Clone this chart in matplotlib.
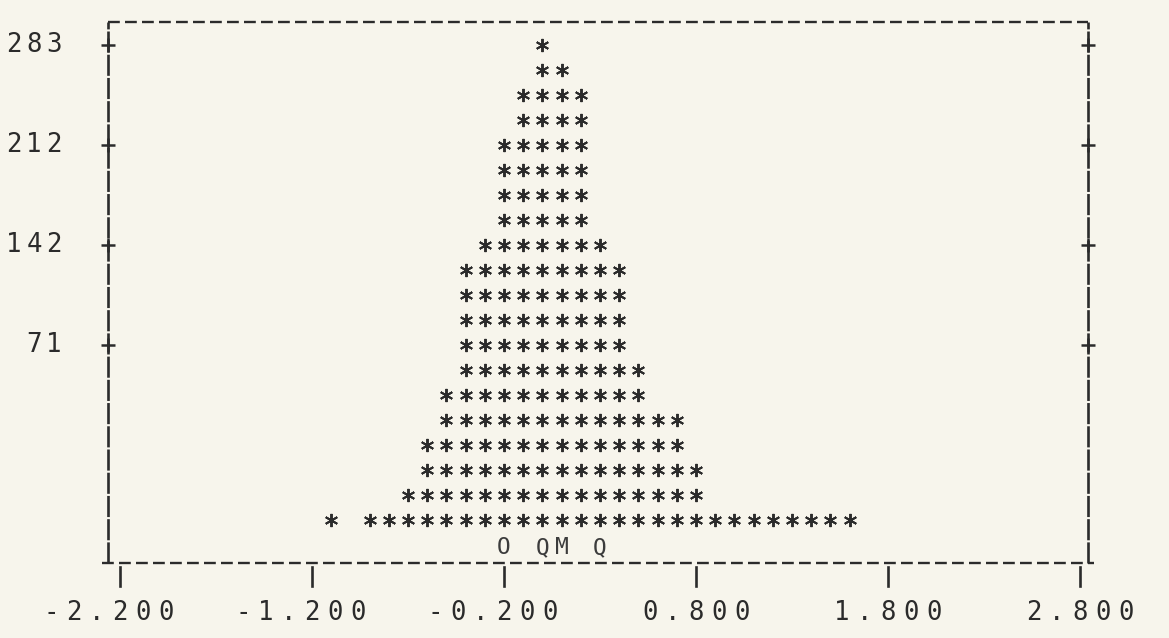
import matplotlib.pyplot as plt
import numpy as np
from matplotlib.transforms import blended_transform_factory

# histogram columns (cell centre) and how many printed rows of stars each one has
bins = [-1.1, -1.0, -0.9, -0.8, -0.7, -0.6, -0.5, -0.4, -0.3, -0.2, -0.1, 0.0,
        0.1, 0.2, 0.3, 0.4, 0.5, 0.6, 0.7, 0.8, 0.9, 1.0, 1.1, 1.2, 1.3, 1.4,
        1.5, 1.6]
heights = [1, 0, 1, 1, 2, 4, 6, 11, 12, 16, 18, 20,
           19, 18, 12, 11, 7, 5, 5, 3, 1, 1, 1, 1, 1, 1,
           1, 1]

# summary letters printed under the histogram
mark_x = [-0.2, 0.0, 0.1, 0.3]
mark_txt = ["O", "Q", "M", "Q"]

xticks = [-2.2, -1.2, -0.2, 0.8, 1.8, 2.8]
xlabels = ["-2.200", "-1.200", "-0.200", "0.800", "1.800", "2.800"]
yticks = [8, 12, 16, 20]
ylabels = ["71", "142", "212", "283"]

ink = "#2b2b2b"
paper = "#f7f5ec"
mono = "DejaVu Sans Mono"

W, H = 1169, 638
fig = plt.figure(figsize=(W / 100, H / 100), dpi=100, facecolor=paper)
left_px, right_px, top_px, bot_px = 108, 1088, 22, 563
ax = fig.add_axes([left_px / W, 1 - bot_px / H, (right_px - left_px) / W, (bot_px - top_px) / H])
ax.set_facecolor(paper)
ax.set_xlim(-2.2625, 2.8417)
ax.set_ylim(-0.72, 20.92)
ax.axis("off")

# stars: one per printed row in each column
px, py = [], []
for b, h in zip(bins, heights):
    for lev in range(1, h + 1):
        px.append(b)
        py.append(lev)
ax.plot(px, py, ls="none", marker=(6, 2, 0), ms=9.5, mew=1.4, color=ink)

for x, t in zip(mark_x, mark_txt):
    ax.text(x, -0.1, t, family=mono, fontsize=16.5, color="#3c3c3c",
            ha="center", va="center")

# dashed printer frame
ta = ax.transAxes
ax.plot([0, 1], [1, 1], transform=ta, clip_on=False, color=ink, lw=1.7, dashes=(5, 2.2))
ax.plot([-0.006, 1.006], [0, 0], transform=ta, clip_on=False, color=ink, lw=1.7, dashes=(5, 2.2))
for xe in (0, 1):
    ax.plot([xe, xe], [0, 1], transform=ta, clip_on=False, color=ink, lw=1.9, dashes=(8, 0.8))

ty = blended_transform_factory(ta, ax.transData)
tx = blended_transform_factory(ax.transData, ta)
for xe in (0, 1):
    ax.plot([xe] * len(yticks), yticks, transform=ty, ls="none", marker="+",
            ms=10, mew=1.8, color=ink, clip_on=False)
for x in xticks:
    ax.plot([x, x], [-0.008, -0.042], transform=tx, color=ink, lw=1.9, clip_on=False)


def spaced(s, anchor, pitch_px, xy, trans, dy_px):
    # draw string one character at a time, like a line printer
    for i, ch in enumerate(s):
        dx = (i - anchor) * pitch_px
        ax.annotate(ch, xy=xy, xycoords=trans, xytext=(dx * 0.72, dy_px * 0.72),
                    textcoords="offset points", ha="center", va="center",
                    family=mono, fontsize=18.5, color=ink, annotation_clip=False)


for x, lab in zip(xticks, xlabels):
    spaced(lab, lab.index(".") + 1, 23, (x, 0), tx, -50)

for y, lab in zip(yticks, ylabels):
    spaced(lab, len(lab) - 1 + 2.7, 20, (0, y), ty, 0)

fig.savefig("out.png", dpi=100, facecolor=paper)
